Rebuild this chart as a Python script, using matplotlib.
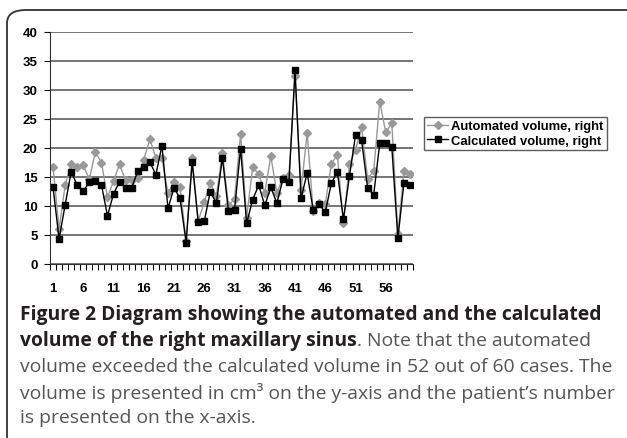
import matplotlib
matplotlib.use('agg')
import matplotlib.pyplot as plt
from matplotlib.patches import FancyBboxPatch
from matplotlib.ticker import FixedLocator

# patient numbers 1..60
patients = list(range(1, 61))

automated = [16.8, 6.0, 13.6, 17.2, 16.8, 17.0, 14.6, 19.3, 17.5, 11.5,
             14.3, 17.2, 14.4, 14.4, 14.9, 18.0, 21.5, 18.3, 18.2, 12.2,
             14.2, 13.3, 3.9, 18.3, 7.4, 10.7, 13.9, 11.7, 19.2, 10.1,
             11.2, 22.4, 8.0, 16.7, 15.5, 12.3, 18.6, 12.2, 14.9, 15.3,
             32.4, 12.8, 22.6, 9.2, 10.6, 10.3, 17.3, 18.8, 7.0, 17.2,
             19.7, 23.6, 14.7, 16.0, 28.0, 22.7, 24.3, 5.2, 16.0, 15.5]

calculated = [13.3, 4.3, 10.2, 15.9, 13.6, 12.6, 14.1, 14.3, 13.7, 8.3,
              12.1, 14.2, 13.1, 13.1, 16.0, 16.8, 17.6, 15.4, 20.4, 9.6,
              13.1, 11.3, 3.7, 17.6, 7.2, 7.4, 12.5, 10.5, 18.3, 9.1,
              9.3, 19.9, 7.0, 11.1, 13.6, 10.1, 13.2, 10.5, 14.6, 14.2,
              33.4, 11.3, 15.7, 9.3, 10.3, 8.9, 13.9, 15.9, 7.7, 15.2,
              22.2, 21.4, 13.1, 11.9, 20.8, 20.9, 20.2, 4.4, 14.0, 13.7]

xlabels = [1, 6, 11, 16, 21, 26, 31, 36, 41, 46, 51, 56]
ylabels = [0, 5, 10, 15, 20, 25, 30, 35, 40]

W, H = 627, 439
fig = plt.figure(figsize=(W / 100, H / 100), dpi=100)

# rounded frame, only top/left visible
frame = FancyBboxPatch((7 / W, 1 - 11 / H - 1), 1.2, 1.0,
                       boxstyle='round,pad=0,rounding_size=0.03',
                       transform=fig.transFigure, fill=False,
                       edgecolor='#333333', linewidth=1.3)
fig.patches.append(frame)

ax = fig.add_axes([50 / W, 1 - 265 / H, 363 / W, 232 / H])
ax.plot(patients, automated, color='#999999', lw=1, marker='D', ms=4,
        mec='#999999', mfc='#999999', label='Automated volume, right')
ax.plot(patients, calculated, color='black', lw=1, marker='s', ms=4.5,
        label='Calculated volume, right')

ax.set_xlim(0.5, 60.5)
ax.set_ylim(0, 40)
ax.set_yticks(ylabels)
ax.set_xticks(xlabels)
ax.xaxis.set_minor_locator(FixedLocator([i + 0.5 for i in range(0, 61)]))
ax.tick_params(axis='x', which='major', length=0, pad=13)
ax.tick_params(axis='x', which='minor', length=4, width=0.8, direction='out')
ax.tick_params(axis='y', length=4, width=0.8, pad=5)
for t in ax.get_xticklabels() + ax.get_yticklabels():
    t.set_fontfamily('Liberation Sans')
    t.set_fontweight('bold')
    t.set_fontsize(9.5)
ax.grid(axis='y', color='#505050', lw=1.1)
ax.set_axisbelow(True)
for s in ['top', 'right']:
    ax.spines[s].set_visible(False)
ax.spines['left'].set_color('#333333')
ax.spines['bottom'].set_color('#333333')

leg = ax.legend(loc='center left', bbox_to_anchor=(424 / W, 1 - 134.5 / H),
                bbox_transform=fig.transFigure, frameon=True, fancybox=False,
                edgecolor='#333333', borderpad=0.25, borderaxespad=0,
                handlelength=1.6, handletextpad=0.25, labelspacing=0.2,
                prop={'family': 'Liberation Sans', 'weight': 'bold', 'size': 9.4})
leg.get_frame().set_linewidth(1)

# caption
cap_font = 'Open Sans'
fs = 13.9
dark = '#231f20'
grey = '#555555'
x0 = 20 / W
lines_y = [315, 341, 367, 393, 418]
fig.text(x0, 1 - lines_y[0] / H, 'Figure 2 Diagram showing the automated and the calculated',
         fontfamily=cap_font, fontweight='bold', fontsize=fs, color=dark, va='center')
b = fig.text(x0, 1 - lines_y[1] / H, 'volume of the right maxillary sinus',
             fontfamily=cap_font, fontweight='bold', fontsize=fs, color=dark, va='center')
fig.canvas.draw()
bb = b.get_window_extent().transformed(fig.transFigure.inverted())
fig.text(bb.x1, 1 - lines_y[1] / H, '. Note that the automated',
         fontfamily=cap_font, fontsize=fs, color=grey, va='center')
fig.text(x0, 1 - lines_y[2] / H, 'volume exceeded the calculated volume in 52 out of 60 cases. The',
         fontfamily=cap_font, fontsize=fs, color=grey, va='center')
fig.text(x0, 1 - lines_y[3] / H, 'volume is presented in cm\u00b3 on the y-axis and the patient\u2019s number',
         fontfamily=cap_font, fontsize=fs, color=grey, va='center')
fig.text(x0, 1 - lines_y[4] / H, 'is presented on the x-axis.',
         fontfamily=cap_font, fontsize=fs, color=grey, va='center')

fig.savefig('out.png', dpi=100)
